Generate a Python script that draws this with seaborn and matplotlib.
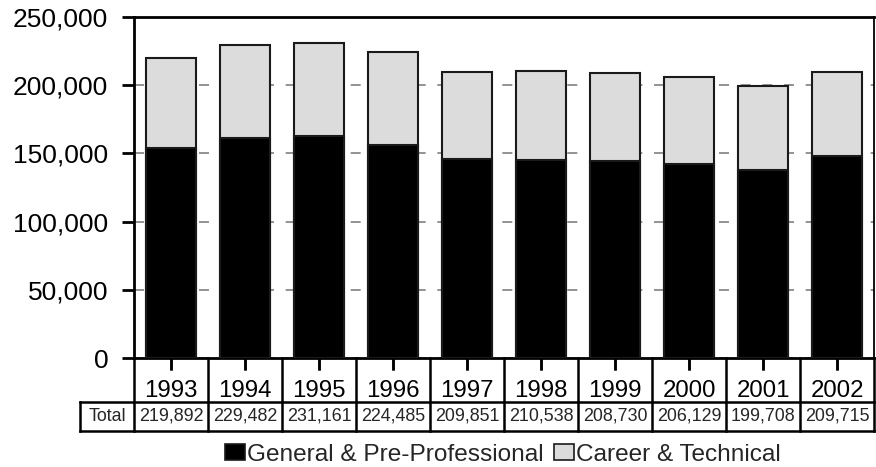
import matplotlib
matplotlib.use("Agg")
import matplotlib.pyplot as plt
from matplotlib.patches import Patch
from matplotlib.ticker import FuncFormatter
import seaborn as sns

# values
years = ["1993", "1994", "1995", "1996", "1997", "1998", "1999", "2000", "2001", "2002"]
totals = [219892, 229482, 231161, 224485, 209851, 210538, 208730, 206129, 199708, 209715]
general = [153900, 161200, 162400, 156300, 145800, 144800, 144100, 142400, 137500, 148200]

sns.set_style("ticks")
plt.rcParams["font.family"] = ["Liberation Sans", "DejaVu Sans"]

fig = plt.figure(figsize=(8.76, 4.67), dpi=100)
ax = fig.add_axes([134 / 876, 1 - 358 / 467, 740 / 876, 341 / 467])

# gray career bar drawn to the full total, black general bar on top of it
sns.barplot(x=years, y=totals, color="#dcdcdc", saturation=1, width=0.67,
            edgecolor="#1a1a1a", linewidth=1.5, ax=ax, zorder=3)
sns.barplot(x=years, y=general, color="black", saturation=1, width=0.67,
            edgecolor="#1a1a1a", linewidth=1.5, ax=ax, zorder=4)

ax.set_xlim(-0.5, len(years) - 0.5)
ax.set_xticks(range(len(years)), labels=years)
ax.set_ylim(0, 250000)
ax.set_yticks(range(0, 250001, 50000))
ax.yaxis.set_major_formatter(FuncFormatter(lambda v, p: f"{int(v):,}"))
ax.yaxis.grid(True, color="#808080", linestyle=(0, (6, 7)), linewidth=1.2, zorder=0)
ax.set_axisbelow(True)
ax.set_xlabel("")
ax.set_ylabel("")

for side in ["top", "left", "bottom"]:
    ax.spines[side].set_linewidth(2.0)
    ax.spines[side].set_color("black")
    ax.spines[side].set_visible(True)
ax.spines["right"].set_visible(True)
ax.spines["right"].set_linewidth(1.3)
ax.spines["right"].set_color("black")

ax.tick_params(axis="y", left=True, length=8.6, width=2.0, labelsize=19, pad=10,
               colors="black", direction="out")
ax.tick_params(axis="x", bottom=True, length=8.6, width=1.8, labelsize=17.3, pad=7,
               colors="black", direction="out")

# table under the axis: year row separators and a row with totals
tr = ax.get_xaxis_transform()
tick_len = 12 / 341
for i in range(len(years)):
    ax.plot([i, i], [0, -tick_len], transform=tr, color="black", lw=1.8,
            clip_on=False, solid_capstyle="butt")

row_top = -0.1276
row_bot = -0.2155
for k in range(len(years) + 1):
    ax.plot([k - 0.5, k - 0.5], [0, row_bot], transform=tr, color="black",
            lw=1.8, clip_on=False, solid_capstyle="projecting")
ax.plot([-0.073, 1], [row_top, row_top], transform=ax.transAxes, color="black",
        lw=1.8, clip_on=False, solid_capstyle="projecting")
ax.plot([-0.073, 1], [row_bot, row_bot], transform=ax.transAxes, color="black",
        lw=1.8, clip_on=False, solid_capstyle="projecting")
ax.plot([-0.073, -0.073], [row_top, row_bot], transform=ax.transAxes, color="black",
        lw=1.8, clip_on=False, solid_capstyle="projecting")

ax.text(-0.0365, (row_top + row_bot) / 2, "Total", transform=ax.transAxes,
        ha="center", va="center", fontsize=12.9)
for i, t in enumerate(totals):
    ax.text(i, (row_top + row_bot) / 2, f"{t:,}", transform=tr,
            ha="center", va="center", fontsize=12.9)

handles = [Patch(facecolor="black", edgecolor="#1a1a1a", linewidth=1.2),
           Patch(facecolor="#dcdcdc", edgecolor="#1a1a1a", linewidth=1.2)]
fig.legend(handles, ["General & Pre-Professional", "Career & Technical"],
           loc="center", bbox_to_anchor=(503 / 876, 1 - 455 / 467), ncol=2,
           frameon=False, fontsize=17.6, handlelength=0.82, handleheight=0.62,
           handletextpad=0.08, columnspacing=0.45, borderpad=0)

fig.savefig("out.png", dpi=100)
